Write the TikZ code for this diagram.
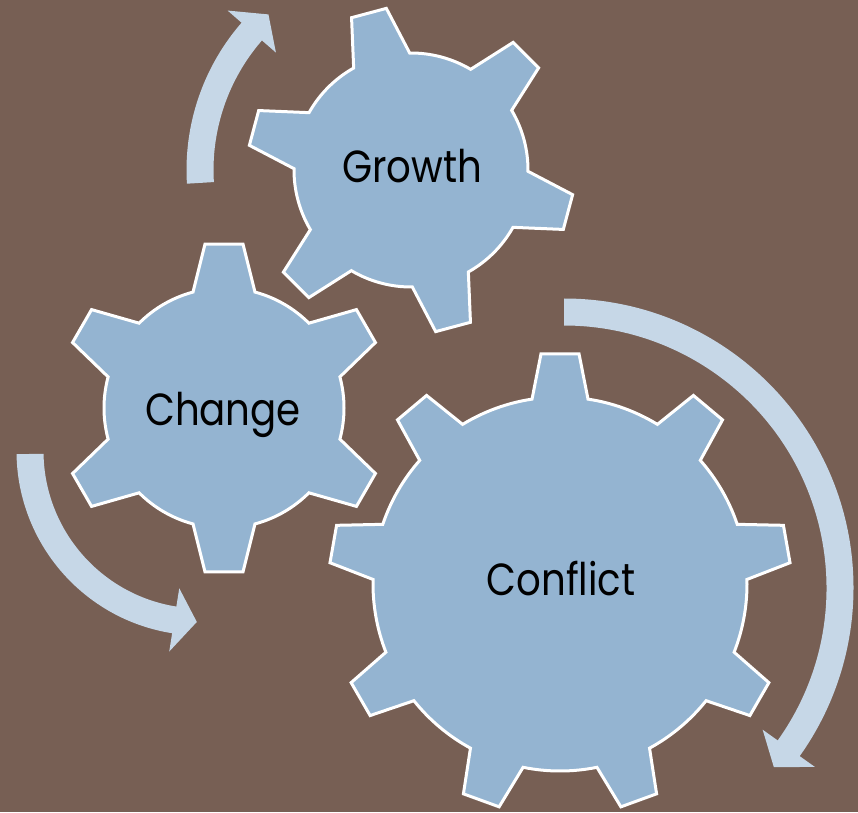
\documentclass[tikz,border=0pt]{standalone}
\usepackage{fontspec}
\setmainfont{Poppins}[FakeStretch=0.86]
\usetikzlibrary{calc}

\definecolor{bgbrown}{HTML}{775F54}
\definecolor{gearblue}{HTML}{94B4D1}
\definecolor{cycleblue}{HTML}{C6D7E7}

% gear: #1 centre, #2 teeth, #3 first tooth angle, #4 body radius,
%       #5 tip radius, #6 half width at root, #7 half width at tip
\newcommand{\drawgear}[7]{%
  \pgfmathsetmacro{\gstep}{360/#2}%
  \pgfmathsetmacro{\groot}{asin(#6/#4)}%
  \pgfmathsetmacro{\gtip}{asin(#7/#5)}%
  \pgfmathtruncatemacro{\glast}{#2-1}%
  \draw[gearbody] ([shift={({#3-\groot}:{#4})}]#1)
    \foreach \k in {0,...,\glast} {
      -- ([shift={({#3+\k*\gstep-\gtip}:{#5})}]#1)
      -- ([shift={({#3+\k*\gstep+\gtip}:{#5})}]#1)
      -- ([shift={({#3+\k*\gstep+\groot}:{#4})}]#1)
      arc[start angle={#3+\k*\gstep+\groot}, end angle={#3+(\k+1)*\gstep-\groot}, radius=#4pt]
    } -- cycle;
}

% curved arrow: #1 centre, #2 radius, #3 tail angle, #4 head angle, #5 tip angle
\newcommand{\drawcycle}[5]{%
  \fill[cyclearrow] ([shift={({#3}:{#2+13.5})}]#1)
    arc[start angle=#3, end angle=#4, radius=#2pt+13.5pt]
    -- ([shift={({#4}:{#2+32})}]#1)
    -- ([shift={({#5}:{#2})}]#1)
    -- ([shift={({#4}:{#2-32})}]#1)
    -- ([shift={({#4}:{#2-13.5})}]#1)
    arc[start angle=#4, end angle=#3, radius=#2pt-13.5pt]
    -- cycle;
}

\begin{document}
\begin{tikzpicture}[
        x=1pt, y=1pt,
        % --- styles ---
        gearbody/.style={draw=white, line width=3pt, fill=gearblue},
        cyclearrow/.style={fill=cycleblue},
        gearlabel/.style={anchor=base, text=black, inner sep=0pt,
                          font=\fontsize{45}{50}\selectfont}
    ]
    \useasboundingbox (0,0) rectangle (858,812);
    \fill[bgbrown] (0,0) rectangle (858,812);

    % --- centres ---
    \coordinate (growthc)      at (411,642);
    \coordinate (changec)      at (224,404);
    \coordinate (conflictc)    at (560,228);
    \coordinate (changeloop)   at (201,361);
    \coordinate (conflictloop) at (564,224);

    % --- arrows ---
    \drawcycle{growthc}{211}{183.5}{139}{132.5}
    \drawcycle{changeloop}{171}{181}{261}{268.6}
    \drawcycle{conflictloop}{276}{90}{-35.5}{-40.5}

    % --- gears ---
    \drawgear{growthc}{6}{45}{117}{163.5}{29}{18}
    \drawgear{changec}{6}{30}{120}{165}{31}{19}
    \drawgear{conflictc}{9}{10}{187}{231}{28}{19}

    % --- labels ---
    \node[gearlabel] (growth)   at (412,629) {Growth};
    \node[gearlabel] (change)   at (223,387) {Change};
    \node[gearlabel] (conflict) at (561,217) {Conflict};
\end{tikzpicture}
\end{document}
